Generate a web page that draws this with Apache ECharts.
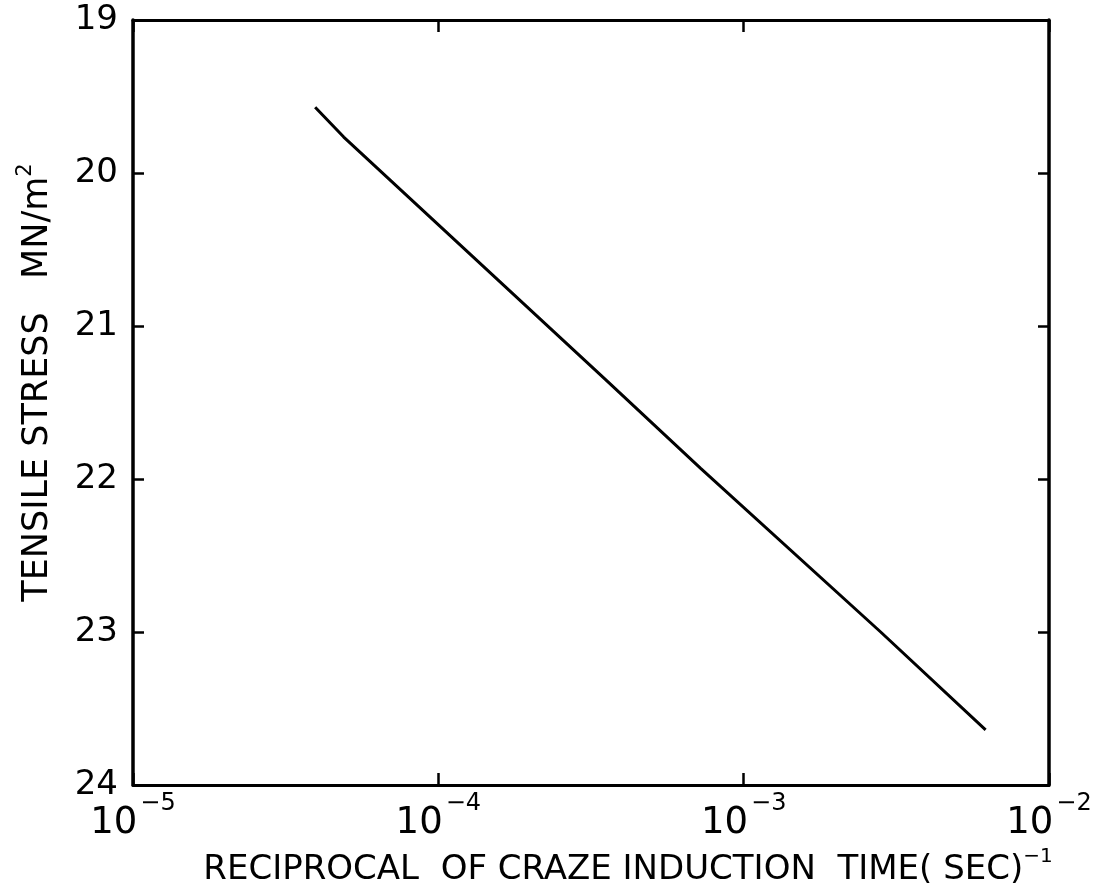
<!DOCTYPE html>
<html>
<head>
<meta charset="utf-8">
<script src="https://cdn.jsdelivr.net/npm/echarts@6/dist/echarts.min.js"></script>
<style>
html,body{margin:0;padding:0;background:#fff;}
#chart{width:1105px;height:884px;}
</style>
</head>
<body>
<div id="chart"></div>
<script>
// Reciprocal of craze induction time (s^-1) vs tensile stress (MN/m^2)
var rateValues = [3.95e-5, 4.9e-5, 3.53e-4, 7.23e-4, 2.81e-3, 6.2e-3];
var stressValues = [19.57, 19.765, 21.35, 21.93, 23.0, 23.64];
var xExtent = [1e-5, 1e-2];
var yExtent = [19, 24];
var xTitle = 'RECIPROCAL  OF CRAZE INDUCTION  TIME( SEC)';
var xTitleSup = '−1';
var yTitle = 'TENSILE STRESS   MN/m';
var yTitleSup = '2';

var lineData = rateValues.map(function (v, i) { return [v, stressValues[i]]; });
var FONT = 'DejaVu Sans';
var axisLineStyle = { color: '#000', width: 3 };

var chart = echarts.init(document.getElementById('chart'), null, { renderer: 'canvas' });
chart.setOption({
  animation: false,
  backgroundColor: '#fff',
  grid: { left: 133, right: 56, top: 20, bottom: 99, containLabel: false, outerBoundsMode: 'none' },
  xAxis: [{
    type: 'log', logBase: 10, min: xExtent[0], max: xExtent[1],
    position: 'bottom',
    axisLine: { show: true, lineStyle: axisLineStyle },
    axisTick: { show: true, inside: true, length: 12, lineStyle: { color: '#000', width: 2.5 } },
    minorTick: { show: false },
    splitLine: { show: false },
    axisLabel: {
      margin: 7,
      formatter: function (v) {
        var e = Math.round(Math.log10(v));
        return '{b|10}{s|' + (e < 0 ? '−' + (-e) : e) + '}';
      },
      rich: {
        b: { fontFamily: FONT, fontSize: 37, color: '#000', lineHeight: 50, verticalAlign: 'bottom' },
        s: { fontFamily: FONT, fontSize: 24, color: '#000', lineHeight: 50, verticalAlign: 'top', padding: [0, 0, 0, 3] }
      }
    },
    name: '{t|' + xTitle + '}{s|' + xTitleSup + '}',
    nameLocation: 'middle',
    nameGap: 50,
    nameTextStyle: {
      padding: [0, 0, 0, 74],
      rich: {
        t: { fontFamily: FONT, fontSize: 34, color: '#000', lineHeight: 40, verticalAlign: 'bottom' },
        s: { fontFamily: FONT, fontSize: 20, color: '#000', lineHeight: 40, verticalAlign: 'top' }
      }
    }
  }, {
    type: 'log', logBase: 10, min: xExtent[0], max: xExtent[1],
    position: 'top',
    axisLine: { show: true, lineStyle: axisLineStyle },
    axisTick: { show: true, inside: true, length: 12, lineStyle: { color: '#000', width: 2.5 } },
    axisLabel: { show: false },
    splitLine: { show: false }
  }],
  yAxis: [{
    type: 'value', min: yExtent[0], max: yExtent[1], interval: 1, inverse: true,
    position: 'left',
    axisLine: { show: true, lineStyle: { color: '#000', width: 3.5 } },
    axisTick: { show: true, inside: true, length: 11, lineStyle: { color: '#000', width: 2.5 } },
    splitLine: { show: false },
    axisLabel: { margin: 15, fontFamily: FONT, fontSize: 34, color: '#000' },
    name: '{t|' + yTitle + '}{s|' + yTitleSup + '}',
    nameLocation: 'middle',
    nameRotate: 90,
    nameGap: 78,
    nameTextStyle: {
      padding: [0, 0, 0, 40],
      rich: {
        t: { fontFamily: FONT, fontSize: 35, color: '#000', lineHeight: 40, verticalAlign: 'bottom' },
        s: { fontFamily: FONT, fontSize: 21, color: '#000', lineHeight: 40, verticalAlign: 'top' }
      }
    }
  }, {
    type: 'value', min: yExtent[0], max: yExtent[1], interval: 1, inverse: true,
    position: 'right',
    axisLine: { show: true, lineStyle: { color: '#000', width: 3.5 } },
    axisTick: { show: true, inside: true, length: 11, lineStyle: { color: '#000', width: 2.5 } },
    splitLine: { show: false },
    axisLabel: { show: false }
  }],
  series: [{
    type: 'line',
    xAxisIndex: 0, yAxisIndex: 0,
    data: lineData,
    showSymbol: false,
    symbol: 'none',
    smooth: false,
    lineStyle: { color: '#000', width: 3 }
  }]
});
</script>
</body>
</html>
